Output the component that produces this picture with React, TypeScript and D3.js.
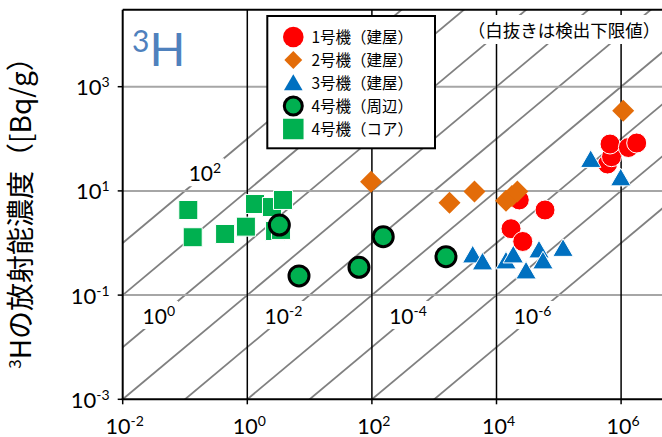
import { useEffect, useRef } from "react";
import * as d3 from "d3";

// [x, y] pairs
const unit1Building: [number, number][] = [
  [23200, 6.7], [60100, 4.3], [17100, 1.88], [26400, 1.07],
  [606000, 32.8], [702000, 45.3], [664000, 79.4], [1310000, 68], [1780000, 83],
];
const unit2Building: [number, number][] = [
  [97, 15.0], [1760, 5.9], [4430, 9.7], [14200, 6.5], [17700, 8.0], [21600, 9.7], [1080000, 346],
];
const unit3Building: [number, number][] = [
  [4150, 0.538], [5960, 0.395], [14200, 0.413], [18600, 0.538], [29800, 0.265],
  [48100, 0.671], [55700, 0.413], [117000, 0.718], [325000, 36.6], [986000, 16.2],
];
const unit4Around: [number, number][] = [
  [3.27, 2.21], [6.76, 0.233], [62, 0.342], [152, 1.32], [1545, 0.546],
];
const unit4Core: [number, number][] = [
  [0.113, 4.3], [0.133, 1.29], [0.44, 1.49], [0.95, 2.06], [1.33, 5.6],
  [2.49, 4.9], [3.74, 6.7], [2.79, 1.7], [3.48, 1.78],
];

const xTicks = [1e-2, 1e0, 1e2, 1e4, 1e6];
const xTickExp = ["-2", "0", "2", "4", "6"];
const yTicks = [1e-3, 1e-1, 1e1, 1e3];
const yTickExp = ["-3", "-1", "1", "3"];
const xGrid = [1e0, 1e2, 1e4, 1e6];
const yGrid = [1e-1, 1e1, 1e3];

// reference lines y = x * 10^k
const ratioExps = [-6, -5, -4, -3, -2, -1, 0, 1, 2];
// labelled ratios: exponent and the y where the label sits on its line
const ratioLabels = [
  { k: 2, exp: "2", y: 10 ** 1.32 },
  { k: 0, exp: "0", y: 10 ** -1.42 },
  { k: -2, exp: "-2", y: 10 ** -1.42 },
  { k: -4, exp: "-4", y: 10 ** -1.42 },
  { k: -6, exp: "-6", y: 10 ** -1.42 },
];

const legendNames = ["1号機（建屋）", "2号機（建屋）", "3号機（建屋）", "4号機（周辺）", "4号機（コア）"];

const RED = "#FF0000";
const ORANGE = "#E36C09";
const BLUE = "#0070C0";
const GREEN = "#00B050";
const NUM_FONT = "Lato, 'Noto Sans', sans-serif";
const JP_FONT = "'Noto Sans CJK JP', 'Noto Sans', sans-serif";

export default function App() {
  const svgRef = useRef<SVGSVGElement>(null);

  useEffect(() => {
    if (!svgRef.current) return;
    const svg = d3.select(svgRef.current);
    svg.selectAll("*").remove();

    const left = 122.7, top = 9.8, bottom = 399.3;
    const x = d3.scaleLog().domain([1e-2, 5e6]).range([left, left + Math.log10(5e8) * 62.3]);
    const y = d3.scaleLog().domain([1e-3, 3e4]).range([bottom, bottom - Math.log10(3e7) * 52.1]);
    const right = x(5e6);

    svg.append("defs").append("clipPath").attr("id", "plot-clip")
      .append("rect").attr("x", left).attr("y", top).attr("width", right - left).attr("height", bottom - top);

    const plot = svg.append("g").attr("clip-path", "url(#plot-clip)");

    // diagonal ratio lines
    plot.selectAll(".diag")
      .data(ratioExps)
      .enter()
      .append("line")
      .attr("x1", x(1e-2)).attr("y1", k => y(1e-2 * 10 ** k))
      .attr("x2", x(5e6)).attr("y2", k => y(5e6 * 10 ** k))
      .attr("stroke", "#808080").attr("stroke-width", 1.8);

    // grid
    plot.selectAll(".hgrid").data(yGrid).enter().append("line")
      .attr("x1", left).attr("x2", right).attr("y1", d => y(d)).attr("y2", d => y(d))
      .attr("stroke", "#A6A6A6").attr("stroke-width", 2);
    plot.selectAll(".vgrid").data(xGrid).enter().append("line")
      .attr("y1", top).attr("y2", bottom).attr("x1", d => x(d)).attr("x2", d => x(d))
      .attr("stroke", "#000").attr("stroke-width", 1.5);

    // ratio labels with white boxes
    ratioLabels.forEach(l => {
      const cx = x(l.y / 10 ** l.k), cy = y(l.y);
      const g = plot.append("g");
      const t = g.append("text")
        .attr("x", cx).attr("y", cy + 7)
        .attr("text-anchor", "middle")
        .attr("font-family", NUM_FONT).attr("font-size", 21).attr("fill", "#000");
      t.append("tspan").text("10");
      t.append("tspan").attr("dy", -8).attr("font-size", 14).text(l.exp);
      const b = (t.node() as SVGTextElement).getBBox();
      g.insert("rect", "text")
        .attr("x", b.x - 3).attr("y", b.y - 1).attr("width", b.width + 6).attr("height", b.height + 2)
        .attr("fill", "#fff");
    });

    // note at top right
    const note = plot.append("g");
    const nt = note.append("text")
      .attr("x", 564).attr("y", 37)
      .attr("text-anchor", "middle")
      .attr("font-family", JP_FONT).attr("font-size", 17.5).attr("fill", "#000")
      .text("（白抜きは検出下限値）");
    const nb = (nt.node() as SVGTextElement).getBBox();
    note.insert("rect", "text")
      .attr("x", nb.x - 4).attr("y", nb.y - 2).attr("width", nb.width + 8).attr("height", nb.height + 4)
      .attr("fill", "#fff");

    // "3H" label
    const h = svg.append("text").attr("x", 132).attr("y", 66)
      .attr("font-family", NUM_FONT).attr("fill", "#4F81BD");
    h.append("tspan").attr("font-size", 30).attr("dy", -14).text("3");
    h.append("tspan").attr("font-size", 47).attr("dy", 14).text("H");

    // series
    const pts = svg.append("g").attr("clip-path", "url(#plot-clip)");
    const tri = d3.symbol().type(d3.symbolTriangle).size(180)();
    const sq = d3.symbol().type(d3.symbolSquare).size(361)();
    const dia = d3.symbol().type(d3.symbolSquare).size(242)();

    pts.selectAll(".core").data(unit4Core).enter().append("path")
      .attr("d", sq).attr("transform", d => `translate(${x(d[0])},${y(d[1])})`)
      .attr("fill", GREEN).attr("stroke", "#fff").attr("stroke-width", 1);
    pts.selectAll(".u1").data(unit1Building).enter().append("circle")
      .attr("cx", d => x(d[0])).attr("cy", d => y(d[1])).attr("r", 10)
      .attr("fill", RED).attr("stroke", "#fff").attr("stroke-width", 1);
    pts.selectAll(".u2").data(unit2Building).enter().append("path")
      .attr("d", dia).attr("transform", d => `translate(${x(d[0])},${y(d[1])}) rotate(45)`)
      .attr("fill", ORANGE);
    pts.selectAll(".u3").data(unit3Building).enter().append("path")
      .attr("d", tri).attr("transform", d => `translate(${x(d[0])},${y(d[1])})`)
      .attr("fill", BLUE).attr("stroke", "#fff").attr("stroke-width", 1);
    pts.selectAll(".u4").data(unit4Around).enter().append("circle")
      .attr("cx", d => x(d[0])).attr("cy", d => y(d[1])).attr("r", 10)
      .attr("fill", GREEN).attr("stroke", "#000").attr("stroke-width", 3);

    // axes lines and frame
    svg.append("line").attr("x1", left).attr("x2", right).attr("y1", top).attr("y2", top)
      .attr("stroke", "#000").attr("stroke-width", 2);
    svg.append("line").attr("x1", left).attr("x2", left).attr("y1", top).attr("y2", bottom)
      .attr("stroke", "#000").attr("stroke-width", 2);
    svg.append("line").attr("x1", left - 1).attr("x2", right).attr("y1", bottom).attr("y2", bottom)
      .attr("stroke", "#000").attr("stroke-width", 2);

    // y ticks
    yTicks.forEach((v, i) => {
      svg.append("line").attr("x1", left - 5).attr("x2", left).attr("y1", y(v)).attr("y2", y(v))
        .attr("stroke", "#000").attr("stroke-width", 1.5);
      const t = svg.append("text").attr("x", left - 13).attr("y", y(v) + 8.5)
        .attr("text-anchor", "end").attr("font-family", NUM_FONT).attr("font-size", 22).attr("fill", "#000");
      t.append("tspan").text("10");
      t.append("tspan").attr("dy", -8).attr("font-size", 14).text(yTickExp[i]);
    });

    // x ticks
    xTicks.forEach((v, i) => {
      svg.append("line").attr("x1", x(v)).attr("x2", x(v)).attr("y1", bottom).attr("y2", bottom + 5)
        .attr("stroke", "#000").attr("stroke-width", 1.5);
      const t = svg.append("text").attr("x", x(v) + 2).attr("y", 433.5)
        .attr("text-anchor", "middle").attr("font-family", NUM_FONT).attr("font-size", 21.5).attr("fill", "#000");
      t.append("tspan").text("10");
      t.append("tspan").attr("dy", -8).attr("font-size", 14).text(xTickExp[i]);
    });

    // y title
    const yt = svg.append("text")
      .attr("transform", "translate(31,206) rotate(-90)")
      .attr("text-anchor", "middle")
      .attr("font-family", JP_FONT).attr("font-size", 28).attr("fill", "#000");
    yt.append("tspan").attr("font-size", 17).attr("dy", -10).text("3");
    yt.append("tspan").attr("dy", 10).text("Hの放射能濃度（[Bq/g）");

    // legend
    const lg = svg.append("g");
    lg.append("rect").attr("x", 267.3).attr("y", 16).attr("width", 167.7).attr("height", 132.3)
      .attr("fill", "#fff").attr("stroke", "#000").attr("stroke-width", 2);
    const rowY = (i: number) => 37 + i * 23;
    const mx = 293.3;
    lg.append("circle").attr("cx", mx).attr("cy", rowY(0)).attr("r", 10.3).attr("fill", RED);
    lg.append("path").attr("d", d3.symbol().type(d3.symbolSquare).size(160)())
      .attr("transform", `translate(${mx},${rowY(1)}) rotate(45)`).attr("fill", ORANGE);
    lg.append("path").attr("d", d3.symbol().type(d3.symbolTriangle).size(150)())
      .attr("transform", `translate(${mx},${rowY(2) + 2})`).attr("fill", BLUE);
    lg.append("circle").attr("cx", mx).attr("cy", rowY(3)).attr("r", 9).attr("fill", GREEN)
      .attr("stroke", "#000").attr("stroke-width", 3);
    lg.append("path").attr("d", d3.symbol().type(d3.symbolSquare).size(420)())
      .attr("transform", `translate(${mx},${rowY(4)})`).attr("fill", GREEN);
    legendNames.forEach((n, i) => {
      lg.append("text").attr("x", 311.5).attr("y", rowY(i) + 5.5)
        .attr("font-family", JP_FONT).attr("font-size", 15.5).attr("fill", "#000").text(n);
    });
  }, []);

  return (
    <svg ref={svgRef} width={662} height={437}
      style={{ position: "absolute", left: 0, top: 0, background: "#fff" }} />
  );
}
